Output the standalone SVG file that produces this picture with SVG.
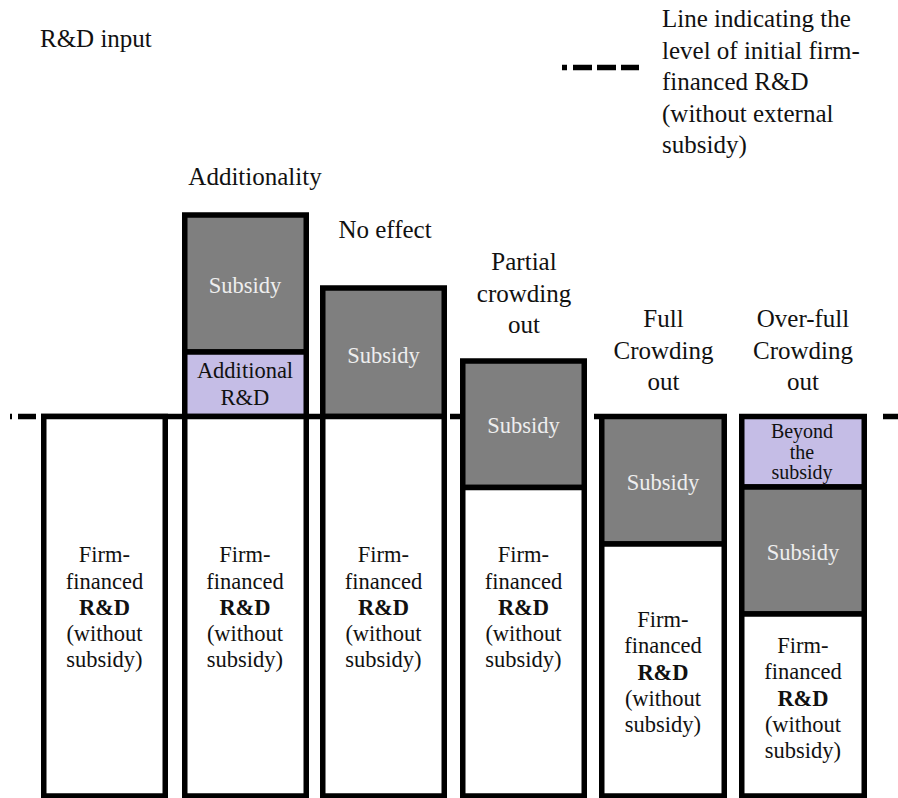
<svg xmlns="http://www.w3.org/2000/svg" width="898" height="798" viewBox="0 0 898 798" font-family="'Liberation Serif', 'DejaVu Serif', 'Times New Roman', serif">
<style>
text{font-family:'Liberation Serif','DejaVu Serif','Times New Roman',serif;fill:#111}
.t{font-size:25px}
.b{font-size:22.5px;text-anchor:middle}
.s{fill:#eeeeee}
.sm{font-size:20px;text-anchor:middle}
.bold{font-weight:bold}
.white{fill:#ffffff;stroke:#000;stroke-width:5.5}
.gray{fill:#7f7f7f;stroke:#000;stroke-width:5.5}
.lav{fill:#c5bde6;stroke:#000;stroke-width:5.5}
.dash{fill:none;stroke:#000;stroke-width:5.5}
</style>
<rect width="898" height="798" fill="#fff"/>
<text class="t" x="40" y="47">R&amp;D input</text>
<g id="legend">
<path class="dash" d="M562 67.5H567M573 67.5H592M597 67.5H616M621 67.5H639"/>
<text class="t" x="662" y="27">Line indicating the</text>
<text class="t" x="662" y="58.5">level of initial firm-</text>
<text class="t" x="662" y="90">financed R&amp;D</text>
<text class="t" x="662" y="121.5">(without external</text>
<text class="t" x="662" y="153">subsidy)</text>
</g>
<g id="connectors">
<path class="dash" d="M10 416.5H12M18 416.5H36M41 416.5H447M450 416.5H460M594 416.5H599M883 416.5H898"/>
</g>
<g id="col1">
<rect class="white" x="43.75" y="416.5" width="121.5" height="379.5"/>
<text class="b" x="104.5" y="562">Firm-</text>
<text class="b" x="104.5" y="588.5">financed</text>
<text class="b bold" x="104.5" y="614.5">R&amp;D</text>
<text class="b" x="104.5" y="640.5">(without</text>
<text class="b" x="104.5" y="667">subsidy)</text>
</g>
<g id="col2">
<text class="t" x="255" y="185" text-anchor="middle">Additionality</text>
<rect class="gray" x="184.75" y="215" width="121.5" height="137"/>
<rect class="lav" x="184.75" y="352" width="121.5" height="64.5"/>
<rect class="white" x="184.75" y="416.5" width="121.5" height="379.5"/>
<text class="b s" x="245" y="293">Subsidy</text>
<text class="b" x="245" y="378">Additional</text>
<text class="b" x="245" y="405">R&amp;D</text>
<text class="b" x="245" y="562">Firm-</text>
<text class="b" x="245" y="588.5">financed</text>
<text class="b bold" x="245" y="614.5">R&amp;D</text>
<text class="b" x="245" y="640.5">(without</text>
<text class="b" x="245" y="667">subsidy)</text>
</g>
<g id="col3">
<text class="t" x="385" y="238" text-anchor="middle">No effect</text>
<rect class="gray" x="322.75" y="288" width="121.5" height="128.5"/>
<rect class="white" x="322.75" y="416.5" width="121.5" height="379.5"/>
<text class="b s" x="383.5" y="363">Subsidy</text>
<text class="b" x="383.5" y="562">Firm-</text>
<text class="b" x="383.5" y="588.5">financed</text>
<text class="b bold" x="383.5" y="614.5">R&amp;D</text>
<text class="b" x="383.5" y="640.5">(without</text>
<text class="b" x="383.5" y="667">subsidy)</text>
</g>
<g id="col4">
<text class="t" x="524" y="270" text-anchor="middle">Partial</text>
<text class="t" x="524" y="301.5" text-anchor="middle">crowding</text>
<text class="t" x="524" y="333" text-anchor="middle">out</text>
<rect class="gray" x="462.75" y="361" width="121.5" height="126.5"/>
<rect class="white" x="462.75" y="487.5" width="121.5" height="308.5"/>
<text class="b s" x="523.5" y="433">Subsidy</text>
<text class="b" x="523.5" y="562">Firm-</text>
<text class="b" x="523.5" y="588.5">financed</text>
<text class="b bold" x="523.5" y="614.5">R&amp;D</text>
<text class="b" x="523.5" y="640.5">(without</text>
<text class="b" x="523.5" y="667">subsidy)</text>
</g>
<g id="col5">
<text class="t" x="663.5" y="327" text-anchor="middle">Full</text>
<text class="t" x="663.5" y="358.5" text-anchor="middle">Crowding</text>
<text class="t" x="663.5" y="390" text-anchor="middle">out</text>
<rect class="gray" x="601.75" y="416.5" width="122.5" height="127.5"/>
<rect class="white" x="601.75" y="544" width="122.5" height="252"/>
<text class="b s" x="663" y="490">Subsidy</text>
<text class="b" x="663" y="627">Firm-</text>
<text class="b" x="663" y="653">financed</text>
<text class="b bold" x="663" y="679.5">R&amp;D</text>
<text class="b" x="663" y="705.5">(without</text>
<text class="b" x="663" y="732">subsidy)</text>
</g>
<g id="col6">
<text class="t" x="803" y="327" text-anchor="middle">Over-full</text>
<text class="t" x="803" y="358.5" text-anchor="middle">Crowding</text>
<text class="t" x="803" y="390" text-anchor="middle">out</text>
<rect class="lav" x="741.75" y="416.5" width="122.5" height="70.5"/>
<rect class="gray" x="741.75" y="487" width="122.5" height="127"/>
<rect class="white" x="741.75" y="614" width="122.5" height="182"/>
<text class="sm" x="802" y="438">Beyond</text>
<text class="sm" x="802" y="458.5">the</text>
<text class="sm" x="802" y="479">subsidy</text>
<text class="b s" x="803" y="560">Subsidy</text>
<text class="b" x="803" y="653">Firm-</text>
<text class="b" x="803" y="679">financed</text>
<text class="b bold" x="803" y="705.5">R&amp;D</text>
<text class="b" x="803" y="732">(without</text>
<text class="b" x="803" y="758">subsidy)</text>
</g>
</svg>
